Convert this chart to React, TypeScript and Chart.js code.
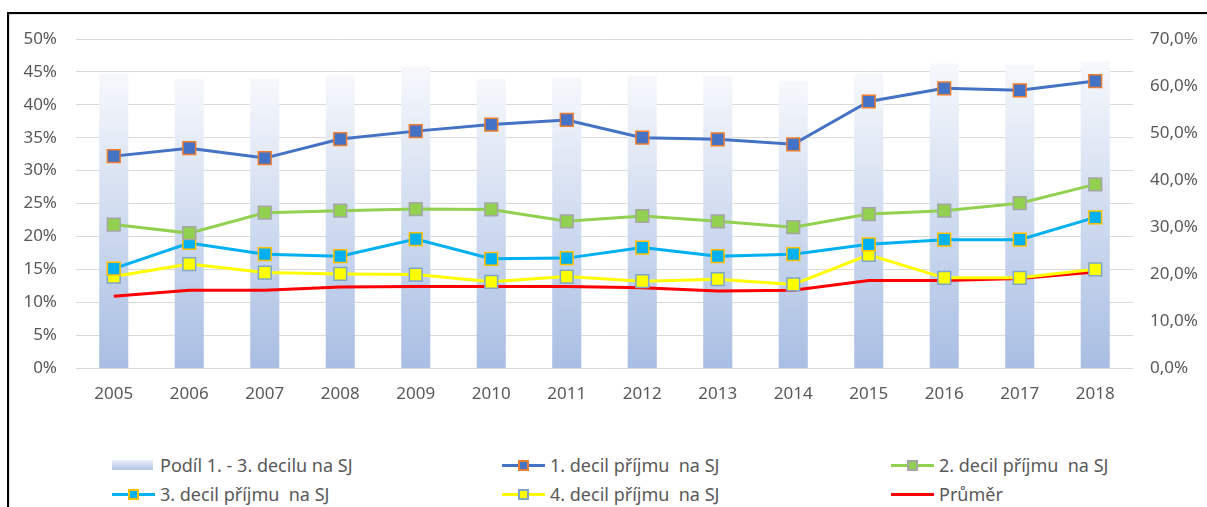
import React, { useEffect, useRef } from "react";
import { Chart, registerables } from "chart.js";

Chart.register(...registerables);

const years = ["2005", "2006", "2007", "2008", "2009", "2010", "2011", "2012", "2013", "2014", "2015", "2016", "2017", "2018"];
const shareDecil13 = [62.7, 61.5, 61.5, 62.3, 64.1, 61.5, 61.8, 62.2, 62.2, 61.1, 62.6, 64.8, 64.5, 65.2];
const decil1 = [32.2, 33.4, 31.9, 34.8, 36.0, 37.0, 37.7, 35.0, 34.75, 34.0, 40.5, 42.5, 42.2, 43.6];
const decil2 = [21.8, 20.5, 23.6, 23.9, 24.15, 24.1, 22.3, 23.1, 22.3, 21.4, 23.4, 23.9, 25.05, 27.9];
const decil3 = [15.1, 19.0, 17.3, 17.0, 19.6, 16.6, 16.7, 18.3, 17.0, 17.3, 18.8, 19.5, 19.5, 22.9];
const decil4 = [13.9, 15.8, 14.5, 14.3, 14.2, 13.1, 13.9, 13.2, 13.5, 12.7, 17.2, 13.7, 13.7, 15.0];
const prumer = [10.9, 11.8, 11.8, 12.3, 12.4, 12.4, 12.4, 12.2, 11.7, 11.8, 13.3, 13.3, 13.6, 14.6];

const labelShare = "Podíl 1. - 3. decilu na SJ";
const label1 = "1. decil příjmu  na SJ";
const label2 = "2. decil příjmu  na SJ";
const label3 = "3. decil příjmu  na SJ";
const label4 = "4. decil příjmu  na SJ";
const labelAvg = "Průměr";

const FONT = "'Noto Sans', sans-serif";
const TEXT = "#595959";

type Sym = { kind: "bar" } | { kind: "line"; line: string; fill?: string; border?: string };

function LegendItem(props: { left: number; top: number; text: string; sym: Sym }) {
  const { left, top, text, sym } = props;
  return (
    <div style={{ position: "absolute", left, top, height: 24, display: "flex", alignItems: "center" }}>
      <div style={{ position: "relative", width: 43, height: 24, marginRight: 5 }}>
        {sym.kind === "bar" ? (
          <div style={{ position: "absolute", left: 0, top: 7, width: 41, height: 10, background: "linear-gradient(#e9eef8, #b3c5e6)" }} />
        ) : (
          <>
            <div style={{ position: "absolute", left: 0, top: 10.5, width: 43, height: 3, background: sym.line }} />
            {sym.fill ? (
              <div style={{ position: "absolute", left: 16, top: 6.5, width: 11, height: 11, boxSizing: "border-box", background: sym.fill, border: `2px solid ${sym.border}` }} />
            ) : null}
          </>
        )}
      </div>
      <span style={{ fontFamily: FONT, fontSize: 18, color: TEXT, whiteSpace: "pre", lineHeight: "24px" }}>{text}</span>
    </div>
  );
}

export default function App() {
  const ref = useRef<HTMLCanvasElement>(null);

  useEffect(() => {
    const canvas = ref.current;
    if (!canvas) return;
    const barFill = (ctx: any) => {
      const chart = ctx.chart;
      const area = chart.chartArea;
      const y2 = chart.scales && chart.scales.y2;
      if (!area || !y2) return "#c9d5ec";
      const v = typeof ctx.raw === "number" ? ctx.raw : 65;
      const top = y2.getPixelForValue(v);
      const g = chart.ctx.createLinearGradient(0, top, 0, area.bottom);
      g.addColorStop(0, "#f6f8fc");
      g.addColorStop(1, "#a9bee3");
      return g;
    };
    const lineDs = (label: string, data: number[], color: string, pBorder: string | null) => ({
      type: "line" as const,
      label,
      data,
      yAxisID: "y",
      borderColor: color,
      backgroundColor: color,
      borderWidth: 3,
      tension: 0,
      pointStyle: "rect",
      pointRadius: pBorder ? 9 : 0,
      pointHoverRadius: pBorder ? 9 : 0,
      pointBackgroundColor: color,
      pointBorderColor: pBorder || color,
      pointBorderWidth: 1.5,
      fill: false,
    });
    const chart = new Chart(canvas, {
      data: {
        labels: years,
        datasets: [
          { ...lineDs(label1, decil1, "#4472c4", "#ed7d31"), order: 1 },
          { ...lineDs(label2, decil2, "#92d050", "#a5a5a5"), order: 2 },
          { ...lineDs(label3, decil3, "#00b0f0", "#ffc000"), order: 3 },
          { ...lineDs(label4, decil4, "#ffff00", "#7ea6c9"), order: 4 },
          { ...lineDs(labelAvg, prumer, "#ff0000", null), order: 5 },
          {
            type: "bar" as const,
            label: labelShare,
            data: shareDecil13,
            yAxisID: "y2",
            backgroundColor: barFill,
            barPercentage: 0.385,
            categoryPercentage: 1,
            order: 10,
          },
        ] as any,
      },
      options: {
        responsive: false,
        animation: false,
        layout: { padding: { top: 39, left: 0, right: 0, bottom: 0 } },
        plugins: { legend: { display: false }, tooltip: { enabled: false } },
        scales: {
          x: {
            grid: { display: false },
            border: { display: false },
            ticks: { color: TEXT, font: { family: FONT, size: 17 }, padding: 8, maxRotation: 0 },
            afterFit: (s: any) => {
              s.height = 52;
            },
          },
          y: {
            position: "left",
            min: 0,
            max: 50,
            ticks: {
              stepSize: 5,
              color: TEXT,
              font: { family: FONT, size: 17 },
              padding: 19,
              callback: (v: any) => `${v}%`,
            },
            grid: { color: "#d9d9d9", lineWidth: 1, drawTicks: false },
            border: { display: false },
            afterFit: (s: any) => {
              s.width = 76;
            },
          },
          y2: {
            position: "right",
            min: 0,
            max: 70,
            ticks: {
              stepSize: 10,
              color: TEXT,
              font: { family: FONT, size: 17 },
              padding: 17,
              callback: (v: any) => `${Number(v).toFixed(1).replace(".", ",")}%`,
            },
            grid: { display: false, drawTicks: false },
            border: { display: false },
            afterFit: (s: any) => {
              s.width = 74;
            },
          },
        },
      } as any,
    });
    return () => chart.destroy();
  }, []);

  return (
    <div>
      <div
        style={{
          position: "absolute",
          left: 7,
          top: 12,
          width: 1200,
          height: 495,
          boxSizing: "border-box",
          borderLeft: "2px solid #000",
          borderTop: "2px solid #000",
          background: "#fff",
          overflow: "hidden",
        }}
      >
        <div style={{ width: "100%", height: "100%", boxSizing: "border-box", borderLeft: "1px solid #e3e3e3", borderTop: "1px solid #e3e3e3" }} />
      </div>
      <canvas ref={ref} width={1207} height={420} style={{ position: "absolute", left: 0, top: 0, width: 1207, height: 420 }} />
      <LegendItem left={112} top={453} text={labelShare} sym={{ kind: "bar" }} />
      <LegendItem left={502} top={453} text={label1} sym={{ kind: "line", line: "#4472c4", fill: "#4472c4", border: "#ed7d31" }} />
      <LegendItem left={891} top={453} text={label2} sym={{ kind: "line", line: "#92d050", fill: "#92d050", border: "#a5a5a5" }} />
      <LegendItem left={112} top={482} text={label3} sym={{ kind: "line", line: "#00b0f0", fill: "#00b0f0", border: "#ffc000" }} />
      <LegendItem left={502} top={482} text={label4} sym={{ kind: "line", line: "#ffff00", fill: "#ffff00", border: "#7ea6c9" }} />
      <LegendItem left={891} top={482} text={labelAvg} sym={{ kind: "line", line: "#ff0000" }} />
    </div>
  );
}
